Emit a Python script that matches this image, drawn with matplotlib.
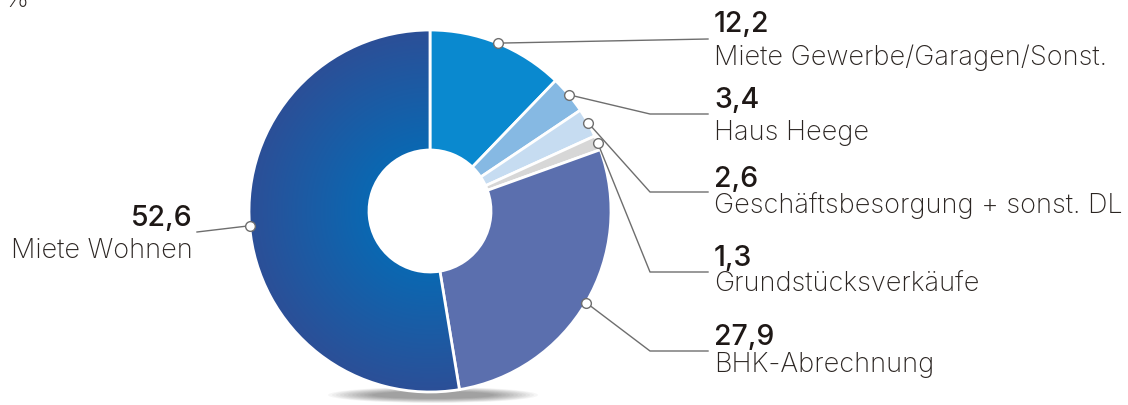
import numpy as np
import matplotlib.pyplot as plt
from matplotlib.patches import Ellipse
from matplotlib.colors import to_rgb

# data
values = [12.2, 3.4, 2.6, 1.3, 27.9, 52.6]
numbers = ['12,2', '3,4', '2,6', '1,3', '27,9', '52,6']
labels = ['Miete Gewerbe/Garagen/Sonst.', 'Haus Heege', 'Geschäftsbesorgung + sonst. DL',
          'Grundstücksverkäufe', 'BHK-Abrechnung', 'Miete Wohnen']
colors = ['#0a89cf', '#86b9e3', '#c6dcf1', '#d7d7d7', '#5b6fae', '#1f5aa6']

W, H = 1128, 406
fig = plt.figure(figsize=(W / 100, H / 100), dpi=100)
ax = fig.add_axes([0, 0, 1, 1])

cx, cy, R, r = 430, H - 212, 181, 61

# soft shadow under the donut
for k in range(12):
    ax.add_patch(Ellipse((433, H - 396), 210 - k * 8, 16 - k * 0.8,
                         facecolor='#000000', alpha=0.035, edgecolor='none', zorder=0))

wedges, _ = ax.pie(values, colors=colors, startangle=90, counterclock=False,
                   center=(cx, cy), radius=R, frame=True,
                   wedgeprops=dict(width=R - r, edgecolor='white', linewidth=2))

# radial gradient for the big slice
yy, xx = np.mgrid[0:H, 0:W] + 0.5
d = np.clip((np.hypot(xx - cx, yy - cy) - r) / (R - r), 0, 1)[..., None]
c_in, c_out = np.array(to_rgb('#0a68b2')), np.array(to_rgb('#2c4f97'))
img = c_in * (1 - d) + c_out * d
im = ax.imshow(img, extent=(0, W, 0, H), origin='lower', zorder=1.5, interpolation='bilinear')
big = wedges[5]
big.set_facecolor('none')
big.set_zorder(2)
im.set_clip_path(big)

ax.set_xlim(0, W)
ax.set_ylim(0, H)
ax.set_aspect('equal')
ax.axis('off')

# anchor points at the outer edge, middle of each slice
cum = np.cumsum([0] + values[:-1])
mids = np.radians(90 - (cum + np.array(values) / 2) * 3.6)
px = cx + R * np.cos(mids)
py = cy + R * np.sin(mids)

line_y = [40, 115, 193, 273, 352]
num_base = [32, 108, 187, 266, 345]
lab_base = [65, 140, 213, 292, 372]
lc = '#6e6e6e'
tc = '#2b2522'
font = 'Inter'
lab_kw = dict(fontsize=19.5, family=font, fontweight='light', color=tc, va='baseline')
num_kw = dict(fontsize=20.5, family=font, fontweight='medium', color='#1e1816', va='baseline')

for i in range(5):
    if i == 0:
        xs, ys = [px[i], 708], [py[i], H - line_y[i]]
    else:
        xs, ys = [px[i], 650, 708], [py[i], H - line_y[i], H - line_y[i]]
    ax.plot(xs, ys, color=lc, lw=1, zorder=3)
    ax.text(714, H - num_base[i], numbers[i], ha='left', **num_kw)
    ax.text(714, H - lab_base[i], labels[i], ha='left', **lab_kw)

ax.plot([px[5], 197], [py[5], H - 233], color=lc, lw=1, zorder=3)
ax.text(193, H - 226, numbers[5], ha='right', **num_kw)
ax.text(193, H - 258, labels[5], ha='right', **lab_kw)

ax.plot(px, py, 'o', ms=7, mfc='white', mec='#6e6e6e', mew=1, zorder=4)

ax.text(4, H - 7, '%', ha='left', **lab_kw)

plt.savefig('out.png', dpi=100)
